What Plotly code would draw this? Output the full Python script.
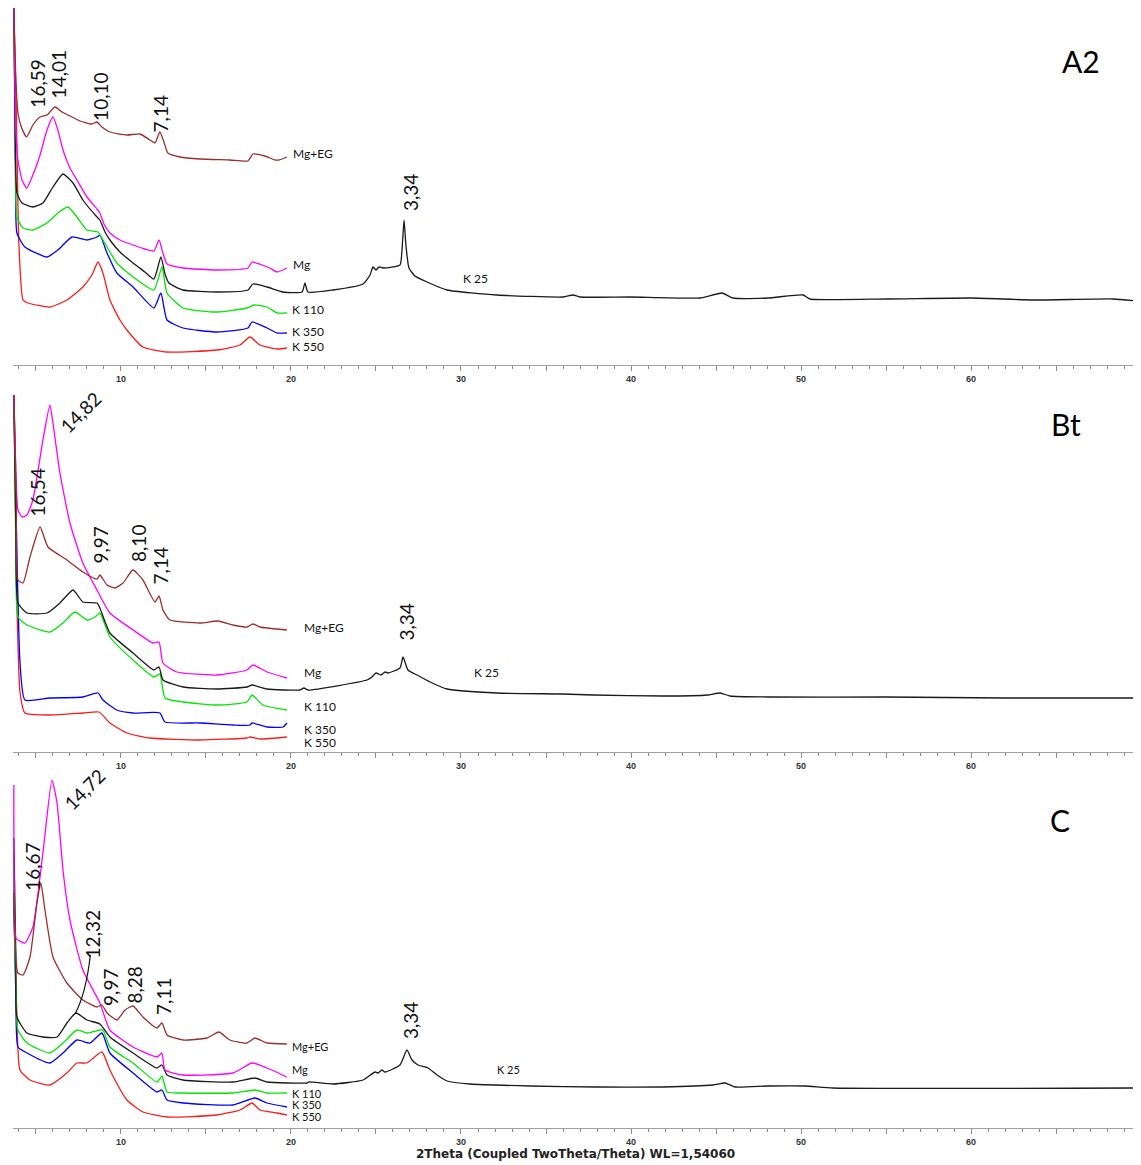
import plotly.graph_objects as go

# ---------------- data (2Theta in degrees, intensity in relative units) ----------------
# Panel A2
A2_MGEG_X = [3.68, 3.82, 3.94, 4.16, 4.45, 4.82, 5.24, 5.65, 6.12, 6.53, 7.0, 7.59, 8.29, 8.59, 8.88, 9.35, 10.35, 11.12, 11.7, 12.0, 12.29, 12.53, 12.76, 13.47, 14.65, 16.41, 17.47, 17.76, 18.47, 19.06, 19.29, 19.76]
A2_MGEG_Y = [360, 285, 252, 237, 228, 240, 248, 250, 258, 253, 249, 244, 241, 243, 238, 233, 230, 231, 225, 222, 233, 223, 212, 208, 206, 205, 204, 211, 209, 205, 205, 208]
A2_MG_X = [3.70, 3.82, 3.94, 4.18, 4.45, 4.82, 5.24, 5.65, 6.0, 6.29, 6.59, 7.0, 7.41, 8.0, 8.59, 8.76, 9.0, 9.35, 9.94, 10.71, 11.41, 11.94, 12.24, 12.47, 12.71, 13.65, 15.65, 17.47, 17.71, 18.29, 18.76, 19.18, 19.76]
A2_MG_Y = [360, 235, 205, 185, 177, 190, 210, 235, 248, 235, 215, 197, 185, 168, 156, 152, 141, 132, 125, 120, 116, 114, 125, 112, 101, 97, 95, 97, 103, 100, 97, 93, 97]
A2_K25_X = [3.70, 3.79, 3.88, 4.18, 4.82, 5.41, 6.0, 6.59, 7.18, 7.76, 8.59, 8.76, 9.06, 9.35, 9.94, 10.71, 11.41, 11.94, 12.35, 12.59, 12.82, 13.65, 15.65, 17.47, 17.76, 18.59, 19.53, 20.65, 20.82, 21.0, 22.47, 24.24, 24.65, 24.82, 25.0, 25.18, 25.41, 26.41, 26.53, 26.65, 26.76, 26.94, 27.29, 28.0, 29.18, 32.12, 36.0, 36.59, 37.0, 39.94, 44.06, 45.35, 46.0, 48.06, 50.12, 50.53, 55.06, 60.06, 63.65, 68.35, 69.82]
A2_K25_Y = [360, 215, 172, 162, 158, 162, 178, 191, 182, 165, 148, 145, 133, 125, 113, 102, 93, 86, 108, 91, 82, 75, 73, 75, 81, 78, 73, 73, 82, 73, 75, 81, 90, 98, 95, 98, 97, 100, 115, 145, 120, 97, 89, 83, 75, 70, 68, 70, 68, 68, 67, 72, 67, 67, 70, 66, 66, 67, 65, 66, 64]
A2_K110_X = [3.70, 3.80, 3.88, 4.24, 4.82, 5.65, 6.29, 6.88, 7.41, 8.0, 8.65, 8.94, 9.76, 10.71, 11.94, 12.41, 12.71, 13.65, 15.65, 17.41, 17.82, 18.59, 19.18, 19.76]
A2_K110_Y = [360, 200, 148, 137, 135, 142, 152, 158, 148, 135, 133, 125, 102, 88, 75, 98, 72, 57, 53, 57, 60, 58, 52, 52]
A2_K350_X = [3.70, 3.80, 3.88, 4.35, 5.65, 6.29, 7.12, 8.0, 8.59, 8.76, 9.18, 9.76, 10.71, 11.94, 12.35, 12.71, 13.65, 15.65, 17.47, 17.71, 18.59, 19.18, 19.76]
A2_K350_Y = [360, 180, 132, 118, 108, 115, 128, 125, 128, 130, 112, 92, 78, 57, 72, 45, 37, 33, 37, 43, 37, 32, 32]
A2_K550_X = [3.70, 3.85, 4.0, 4.24, 4.53, 5.82, 6.82, 7.76, 8.29, 8.65, 8.94, 9.35, 9.94, 10.35, 11.29, 12.71, 15.65, 17.0, 17.59, 18.18, 19.18, 19.76]
A2_K550_Y = [360, 250, 120, 65, 62, 58, 65, 78, 90, 103, 92, 65, 45, 35, 18, 13, 15, 20, 28, 20, 16, 17]

# Panel Bt
BT_MGEG_X = [3.70, 3.85, 3.94, 4.24, 4.65, 5.24, 5.71, 6.82, 7.76, 8.59, 8.76, 9.18, 9.65, 10.12, 10.71, 11.29, 12.0, 12.24, 12.47, 12.88, 14.65, 15.71, 16.59, 17.41, 17.76, 18.18, 18.59, 19.76]
BT_MGEG_Y = [357, 250, 172, 169, 195, 225, 205, 192, 180, 173, 177, 167, 164, 169, 182, 172, 150, 156, 142, 132, 129, 131, 127, 125, 128, 125, 124, 122]
BT_MG_X = [3.70, 3.82, 3.94, 4.18, 4.47, 4.82, 5.41, 5.82, 6.0, 6.41, 7.0, 7.76, 8.59, 9.35, 10.71, 11.88, 12.24, 12.47, 13.29, 15.65, 17.41, 17.76, 18.59, 19.76]
BT_MG_Y = [357, 280, 242, 235, 237, 252, 312, 347, 329, 279, 229, 189, 162, 139, 122, 109, 110, 89, 80, 77, 82, 87, 80, 74]
BT_K25_X = [3.70, 3.82, 3.94, 4.47, 5.65, 6.41, 7.18, 7.76, 8.59, 8.76, 9.35, 10.71, 11.94, 12.24, 12.47, 13.65, 15.65, 17.41, 17.71, 18.59, 20.53, 20.76, 21.0, 24.47, 24.76, 25.0, 25.29, 25.53, 25.71, 26.41, 26.59, 26.88, 27.41, 28.18, 29.18, 32.12, 36.0, 37.76, 41.88, 44.5, 45.24, 45.82, 48.0, 55.0, 62.0, 69.82]
BT_K25_Y = [357, 220, 149, 139, 139, 149, 162, 150, 149, 144, 119, 99, 82, 85, 72, 65, 63, 65, 67, 63, 62, 64, 62, 72, 75, 79, 77, 80, 79, 84, 95, 82, 77, 70, 63, 59, 58, 57, 56, 57, 59, 56, 55, 55, 54, 54]
BT_K110_X = [3.70, 3.82, 3.94, 4.47, 5.82, 6.59, 7.29, 8.0, 8.47, 8.76, 9.35, 10.71, 11.94, 12.29, 12.59, 13.65, 15.65, 17.41, 17.71, 18.35, 19.76]
BT_K110_Y = [357, 200, 135, 127, 120, 129, 140, 132, 135, 139, 115, 92, 75, 78, 54, 50, 47, 50, 57, 47, 42]
BT_K350_X = [3.70, 3.88, 4.06, 4.35, 5.82, 7.76, 8.65, 8.94, 9.76, 10.71, 12.29, 12.59, 14.65, 16.59, 17.59, 17.71, 18.59, 19.53, 19.76]
BT_K350_Y = [357, 200, 90, 52, 54, 55, 59, 52, 42, 39, 39, 30, 29, 27, 27, 29, 25, 25, 29]
BT_K550_X = [3.70, 3.88, 4.06, 4.35, 5.82, 7.76, 8.71, 9.35, 10.35, 11.71, 14.65, 17.41, 17.59, 18.18, 19.76]
BT_K550_Y = [357, 150, 60, 39, 37, 39, 40, 29, 19, 14, 12, 14, 15, 13, 15]

# Panel C
C_MGEG_X = [3.70, 3.94, 4.24, 4.65, 5.06, 5.29, 5.53, 6.0, 6.82, 7.76, 8.59, 8.88, 9.18, 9.76, 10.24, 10.71, 11.29, 12.12, 12.41, 12.71, 13.65, 15.06, 15.76, 16.41, 17.41, 17.88, 18.59, 19.76]
C_MGEG_Y = [245, 165, 163, 181, 235, 255, 228, 181, 155, 138, 131, 133, 125, 118, 128, 132, 121, 110, 115, 103, 98, 100, 106, 98, 95, 100, 95, 94]
C_MG_X = [3.70, 3.82, 3.94, 4.35, 4.82, 5.41, 5.94, 6.24, 6.59, 7.0, 7.76, 8.76, 9.35, 10.71, 12.12, 12.41, 12.59, 13.65, 16.59, 17.71, 18.59, 19.76]
C_MG_Y = [353, 200, 198, 195, 211, 285, 358, 335, 268, 218, 168, 135, 108, 91, 81, 85, 68, 63, 65, 75, 70, 61]
C_K25_X = [3.70, 3.82, 3.88, 4.47, 5.41, 6.24, 6.82, 7.35, 8.0, 8.76, 9.35, 10.71, 12.12, 12.41, 12.71, 13.65, 16.59, 17.88, 18.59, 20.94, 21.06, 22.47, 24.24, 24.94, 25.12, 25.35, 25.53, 26.41, 26.82, 27.12, 27.47, 28.06, 28.59, 29.18, 30.53, 34.06, 38.0, 41.88, 44.82, 45.53, 46.12, 48.06, 50.24, 51.88, 69.82]
C_K25_Y = [300, 180, 121, 105, 101, 101, 115, 125, 118, 114, 101, 85, 70, 73, 63, 58, 56, 60, 56, 55, 56, 54, 58, 66, 65, 68, 66, 73, 88, 78, 73, 70, 63, 57, 54, 52, 51, 51, 53, 55, 51, 52, 52, 50, 50]
C_K110_X = [3.65, 3.82, 3.94, 4.47, 5.82, 6.59, 7.41, 8.0, 8.76, 8.94, 9.35, 10.71, 12.12, 12.41, 12.71, 13.65, 16.59, 17.88, 18.59, 19.76]
C_K110_Y = [285, 150, 108, 95, 85, 95, 108, 105, 108, 108, 91, 75, 56, 62, 46, 45, 45, 48, 45, 45]
C_K350_X = [3.65, 3.82, 3.94, 4.47, 5.82, 6.59, 7.41, 8.18, 8.88, 9.35, 10.71, 12.12, 12.41, 12.71, 13.65, 16.59, 17.88, 18.59, 19.76]
C_K350_Y = [270, 140, 91, 85, 75, 85, 98, 95, 105, 85, 65, 46, 48, 38, 35, 33, 40, 35, 31]
C_K550_X = [3.65, 3.88, 4.06, 4.65, 5.82, 6.82, 7.41, 8.0, 8.88, 9.35, 10.35, 11.29, 12.71, 15.65, 17.0, 17.71, 18.18, 19.18, 19.76]
C_K550_Y = [260, 120, 68, 58, 53, 65, 75, 75, 86, 68, 38, 26, 21, 23, 28, 35, 28, 25, 23]

# tick labels
TICK_VALS = [5, 10, 15, 20, 25, 30, 35, 40, 45, 50, 55, 60, 65]
TICK_TEXT = ["", "10", "", "20", "", "30", "", "40", "", "50", "", "60", ""]

# series label text & positions (x deg, y)
PANELS = ["A2", "Bt", "C"]
SERIES_NAMES = ["Mg+EG", "Mg", "K 25", "K 110", "K 350", "K 550"]
A2_LABEL_XY = [(20.06, 212), (20.06, 101), (30.06, 87), (20.0, 56), (20.0, 34), (20.0, 19)]
BT_LABEL_XY = [(20.7, 125), (20.7, 80), (30.7, 80), (20.7, 46), (20.7, 23), (20.7, 10)]
C_LABEL_XY = [(20.0, 92), (20.0, 69), (32.06, 69), (20.0, 44.5), (20.0, 33.5), (20.0, 21.5)]
LABEL_SIZES = [12, 12, 11]

# peak d-spacing labels (text, x deg, y, angle)
A2_PEAKS = [("16,59", 5.04, 281, -90), ("14,01", 6.32, 291, -90), ("10,10", 8.76, 268, -90),
            ("7,14", 12.32, 251, -90), ("3,34", 27.0, 173, -90)]
BT_PEAKS = [("14,82", 7.59, 340, -45), ("16,54", 5.09, 260, -90), ("9,97", 8.74, 207, -90),
            ("8,10", 11.0, 209, -90), ("7,14", 12.32, 186, -90), ("3,34", 26.74, 130, -90)]
C_PEAKS = [("14,72", 7.82, 349, -45), ("16,67", 4.76, 271, -90), ("12,32", 8.32, 204, -90),
           ("9,97", 9.35, 151, -90), ("8,28", 10.74, 153, -90), ("7,11", 12.47, 142, -90),
           ("3,34", 27.0, 118, -90)]
PANEL_LETTER_XY = [(66.47, 304), (65.6, 328), (65.24, 318)]
X_RANGE = [3.65, 69.82]
# y ranges of the three panels (intensity units)
Y_RANGES = [[0, 357], [0, 360], [10, 358]]

COLORS = {"Mg+EG": "#9b2d2d", "Mg": "#ff00ff", "K 25": "#1a1a1a",
          "K 110": "#00e600", "K 350": "#0000ff", "K 550": "#ff1a1a"}

PANEL_DATA = [
    [(A2_MGEG_X, A2_MGEG_Y), (A2_MG_X, A2_MG_Y), (A2_K25_X, A2_K25_Y),
     (A2_K110_X, A2_K110_Y), (A2_K350_X, A2_K350_Y), (A2_K550_X, A2_K550_Y)],
    [(BT_MGEG_X, BT_MGEG_Y), (BT_MG_X, BT_MG_Y), (BT_K25_X, BT_K25_Y),
     (BT_K110_X, BT_K110_Y), (BT_K350_X, BT_K350_Y), (BT_K550_X, BT_K550_Y)],
    [(C_MGEG_X, C_MGEG_Y), (C_MG_X, C_MG_Y), (C_K25_X, C_K25_Y),
     (C_K110_X, C_K110_Y), (C_K350_X, C_K350_Y), (C_K550_X, C_K550_Y)],
]
LABELS_XY = [A2_LABEL_XY, BT_LABEL_XY, C_LABEL_XY]
PEAKS = [A2_PEAKS, BT_PEAKS, C_PEAKS]

# ---------------- figure ----------------
# the page body adds an 8 px offset, so the figure is 8 px smaller
W, H = 1133, 1157
M_L, M_R, M_T, M_B = 5, 3, 0, 37
plot_h = H - M_T - M_B
# panel pixel extents (top, axis-line) in figure px
PANEL_PX = [(0, 357), (384, 744), (772, 1120)]

fig = go.Figure()
annotations = []
shapes = []
peak_font = dict(family="Lato, Open Sans, sans-serif", size=19, color="#111")

for i in range(3):
    xa = "x" if i == 0 else f"x{i+1}"
    ya = "y" if i == 0 else f"y{i+1}"
    for j in [5, 4, 3, 2, 1, 0]:
        xs, ys = PANEL_DATA[i][j]
        name = SERIES_NAMES[j]
        fig.add_trace(go.Scatter(x=xs, y=ys, mode="lines", name=name,
                                 line=dict(color=COLORS[name], width=1.3,
                                           shape="spline", smoothing=0.5),
                                 xaxis=xa, yaxis=ya, showlegend=False,
                                 hoverinfo="skip"))
    label_font = dict(family="Lato, Open Sans, sans-serif", size=LABEL_SIZES[i], color="#111")
    for j, name in enumerate(SERIES_NAMES):
        lx, ly = LABELS_XY[i][j]
        annotations.append(dict(x=lx, y=ly, xref=xa, yref=ya, text=name,
                                showarrow=False, xanchor="left", yanchor="middle",
                                borderpad=0, font=label_font))
    for txt, px, py, ang in PEAKS[i]:
        annotations.append(dict(x=px, y=py, xref=xa, yref=ya, text=txt,
                                showarrow=False, xanchor="center", yanchor="middle",
                                textangle=ang, font=peak_font))
    lx, ly = PANEL_LETTER_XY[i]
    annotations.append(dict(x=lx, y=ly, xref=xa, yref=ya, text=PANELS[i],
                            showarrow=False, xanchor="center", yanchor="middle",
                            font=dict(family="Lato, Open Sans, sans-serif", size=30, color="#000")))

    top_px, axis_px = PANEL_PX[i]
    dom = [(plot_h - axis_px) / plot_h, (plot_h - top_px) / plot_h]
    xkey = "xaxis" if i == 0 else f"xaxis{i+1}"
    ykey = "yaxis" if i == 0 else f"yaxis{i+1}"
    fig.update_layout(**{
        xkey: dict(domain=[0, 1], anchor=ya, range=X_RANGE, showgrid=False, zeroline=False,
                   showline=True, linecolor="#a0a0a0", linewidth=1,
                   ticks="outside", tickvals=TICK_VALS, ticktext=TICK_TEXT,
                   ticklen=5, tickcolor="#8a8a8a", tickwidth=1,
                   minor=dict(ticks="outside", dtick=1, tick0=0, ticklen=2.5,
                              tickcolor="#8a8a8a", tickwidth=1, showgrid=False),
                   tickfont=dict(family="Liberation Sans, Arial, sans-serif", size=9,
                                 color="#333", weight="bold"),
                   fixedrange=True),
        ykey: dict(domain=dom, anchor=xa, range=Y_RANGES[i], visible=False,
                   showgrid=False, zeroline=False, fixedrange=True),
    })

# leader line for the 12,32 label in panel C
shapes.append(dict(type="path", xref="x3", yref="y3",
                   path="M 8.2,183 Q 7.95,145 7.3,124",
                   line=dict(color="#111", width=1.2)))

# bottom axis title
annotations.append(dict(x=0.5, y=-26 / plot_h, xref="paper", yref="paper",
                        text="2Theta (Coupled TwoTheta/Theta) WL=1,54060",
                        showarrow=False, xanchor="center", yanchor="middle",
                        font=dict(family="DejaVu Sans, Verdana, sans-serif", size=12,
                                  color="#222", weight="bold")))

fig.update_layout(width=W, height=H, margin=dict(l=M_L, r=M_R, t=M_T, b=M_B),
                  paper_bgcolor="white", plot_bgcolor="white",
                  annotations=annotations, shapes=shapes, showlegend=False)

fig.write_html("out.html")
